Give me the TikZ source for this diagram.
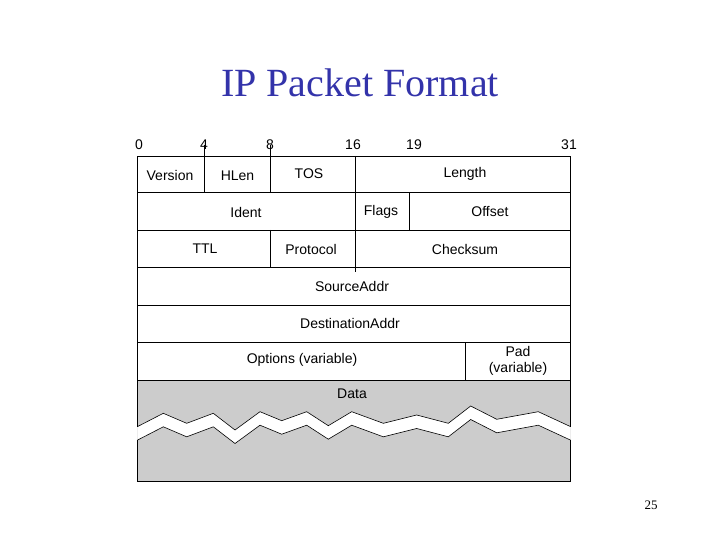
\documentclass[tikz,border=0pt]{standalone}
\usepackage{fontspec}
\setmainfont{Liberation Serif}
\setsansfont{Liberation Sans}
\definecolor{titleblue}{RGB}{51,51,170}
\definecolor{datagrey}{RGB}{204,204,204}
\begin{document}
\begin{tikzpicture}[x=1pt,y=-1pt,
  lbl/.style={font=\sffamily\fontsize{14}{16}\selectfont, inner sep=0pt},
  bit/.style={font=\sffamily\fontsize{14}{16}\selectfont, inner sep=0pt},
  cell/.style={draw=black, line width=0.6pt}]
\useasboundingbox (0,0) rectangle (720,540);
\node[font=\fontsize{40}{44}\selectfont, text=titleblue, inner sep=0pt] (title) at (360,83) {IP Packet Format};
% bit labels
\node[bit] (b0) at (139,145) {0};
\node[bit] (b4) at (204,145) {4};
\node[bit] (b8) at (270,145) {8};
\node[bit] (b16) at (353,145) {16};
\node[bit] (b19) at (414,145) {19};
\node[bit] (b31) at (569,145) {31};
% data region
\fill[datagrey] (137,380.7) rectangle (570.7,481.7);
\fill[white] (137.3,426.7) -- (163.3,413.3) -- (186.7,423.3) -- (213.3,413.3) -- (235,430) -- (260,411.7) -- (281.7,420.7) -- (306.7,411.7) -- (328.3,425.7) -- (351.7,411.7) -- (383.3,423.3) -- (416.7,415) -- (448.3,423.3) -- (470.7,406) -- (496.7,419.3) -- (538.3,411.7) -- (570.7,426.7)
 -- (570.7,440.2) -- (538.3,425.2) -- (496.7,432.8) -- (470.7,419.5) -- (448.3,436.8) -- (416.7,428.5) -- (383.3,436.8) -- (351.7,425.2) -- (328.3,439.2) -- (306.7,425.2) -- (281.7,434.2) -- (260,425.2) -- (235,443.5) -- (213.3,426.8) -- (186.7,436.8) -- (163.3,426.8) -- (137.3,440.2) -- cycle;
\draw[line width=0.6pt] (137.3,426.7) -- (163.3,413.3) -- (186.7,423.3) -- (213.3,413.3) -- (235,430) -- (260,411.7) -- (281.7,420.7) -- (306.7,411.7) -- (328.3,425.7) -- (351.7,411.7) -- (383.3,423.3) -- (416.7,415) -- (448.3,423.3) -- (470.7,406) -- (496.7,419.3) -- (538.3,411.7) -- (570.7,426.7);
\draw[line width=0.6pt] (137.3,440.2) -- (163.3,426.8) -- (186.7,436.8) -- (213.3,426.8) -- (235,443.5) -- (260,425.2) -- (281.7,434.2) -- (306.7,425.2) -- (328.3,439.2) -- (351.7,425.2) -- (383.3,436.8) -- (416.7,428.5) -- (448.3,436.8) -- (470.7,419.5) -- (496.7,432.8) -- (538.3,425.2) -- (570.7,440.2);
\draw[cell] (137,380.7) -- (137,426.7) (570.7,380.7) -- (570.7,426.7)
  (137,440.2) -- (137,481.7) -- (570.7,481.7) -- (570.7,440.2);
% rows
\draw[cell] (137,156) rectangle (570.7,380.7);
\foreach \y in {192.7,230,267.3,305,342.5} \draw[cell] (137,\y) -- (570.7,\y);
\draw[cell] (204.3,145) -- (204.3,192.7);
\draw[cell] (270.7,145) -- (270.7,192.7);
\draw[cell] (355.7,156) -- (355.7,272);
\draw[cell] (409.3,192.7) -- (409.3,230);
\draw[cell] (270.7,230) -- (270.7,267.3);
\draw[cell] (465,342.5) -- (465,380.7);
% labels
\node[lbl] (version) at (170,175) {Version};
\node[lbl] (hlen) at (237.5,176) {HLen};
\node[lbl] (tos) at (309,174) {TOS};
\node[lbl] (length) at (465,174) {Length};
\node[lbl] (ident) at (246,212) {Ident};
\node[lbl] (flags) at (381,212) {Flags};
\node[lbl] (offset) at (490,212) {Offset};
\node[lbl] (ttl) at (205,249) {TTL};
\node[lbl] (protocol) at (311,249) {Protocol};
\node[lbl] (checksum) at (465,249) {Checksum};
\node[lbl] (src) at (352,286) {SourceAddr};
\node[lbl] (dst) at (350,323) {DestinationAddr};
\node[lbl] (opt) at (302,360) {Options (variable)};
\node[lbl, align=center, font=\sffamily\fontsize{14}{16}\selectfont] (pad) at (518,361) {Pad\\(variable)};
\node[lbl] (data) at (352,394) {Data};
\node[font=\fontsize{13}{15}\selectfont, inner sep=0pt] (page) at (651,505) {25};
\end{tikzpicture}
\end{document}
